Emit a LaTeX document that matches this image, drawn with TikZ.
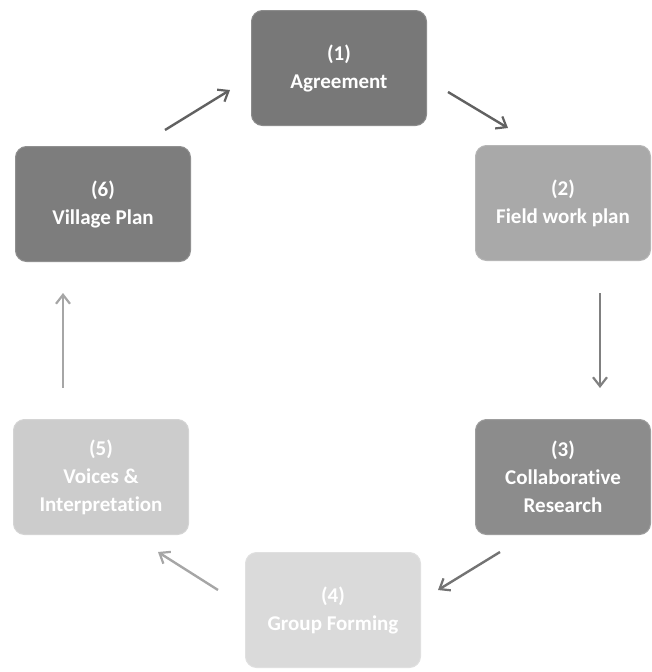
\documentclass[tikz,border=0pt]{standalone}
\usepackage{fontspec}
\setmainfont[RawFeature=-liga]{Carlito}
\usetikzlibrary{arrows.meta}
\tikzset{
  stage/.style={rounded corners=11pt, minimum width=175pt, minimum height=115pt,
    inner sep=0pt, align=center, text=white, font=\fontsize{21}{28}\selectfont\bfseries,
    draw=#1!85!white, fill=#1, line width=1pt},
  flow/.style={line width=2.4pt, draw=#1, -{Straight Barb[length=9pt,width=14pt,line width=2.2pt]}},
}
\definecolor{cA}{HTML}{787878}
\definecolor{cB}{HTML}{A9A9A9}
\definecolor{cC}{HTML}{8C8C8C}
\definecolor{cD}{HTML}{DADADA}
\definecolor{cE}{HTML}{CCCCCC}
\definecolor{cF}{HTML}{7D7D7D}
\begin{document}
\begin{tikzpicture}[x=1pt,y=-1pt]
\useasboundingbox (0,0) rectangle (651,672);
\node[stage=cA] (b1) at (339,68) {(1)\\Agreement};
\node[stage=cB] (b2) at (563,203) {(2)\\Field work plan};
\node[stage=cC] (b3) at (563,477) {(3)\\Collaborative\\Research};
\node[stage=cD] (b4) at (333,610) {(4)\\Group Forming};
\node[stage=cE] (b5) at (101,477) {(5)\\Voices \&\\Interpretation};
\node[stage=cF] (b6) at (103,204) {(6)\\Village Plan};
\coordinate (a1s) at (165,130); \coordinate (a1e) at (230,90);
\coordinate (a2s) at (448,92);  \coordinate (a2e) at (508,128);
\coordinate (a3s) at (600,293); \coordinate (a3e) at (600,388);
\coordinate (a4s) at (500,552); \coordinate (a4e) at (438,590);
\coordinate (a5s) at (218,590); \coordinate (a5e) at (158,552);
\coordinate (a6s) at (63,388);  \coordinate (a6e) at (63,293);
\draw[flow=black!62] (a1s) -- (a1e);
\draw[flow=black!62] (a2s) -- (a2e);
\draw[flow=black!50] (a3s) -- (a3e);
\draw[flow=black!55] (a4s) -- (a4e);
\draw[flow=black!35] (a5s) -- (a5e);
\draw[flow=black!35] (a6s) -- (a6e);
\end{tikzpicture}
\end{document}
